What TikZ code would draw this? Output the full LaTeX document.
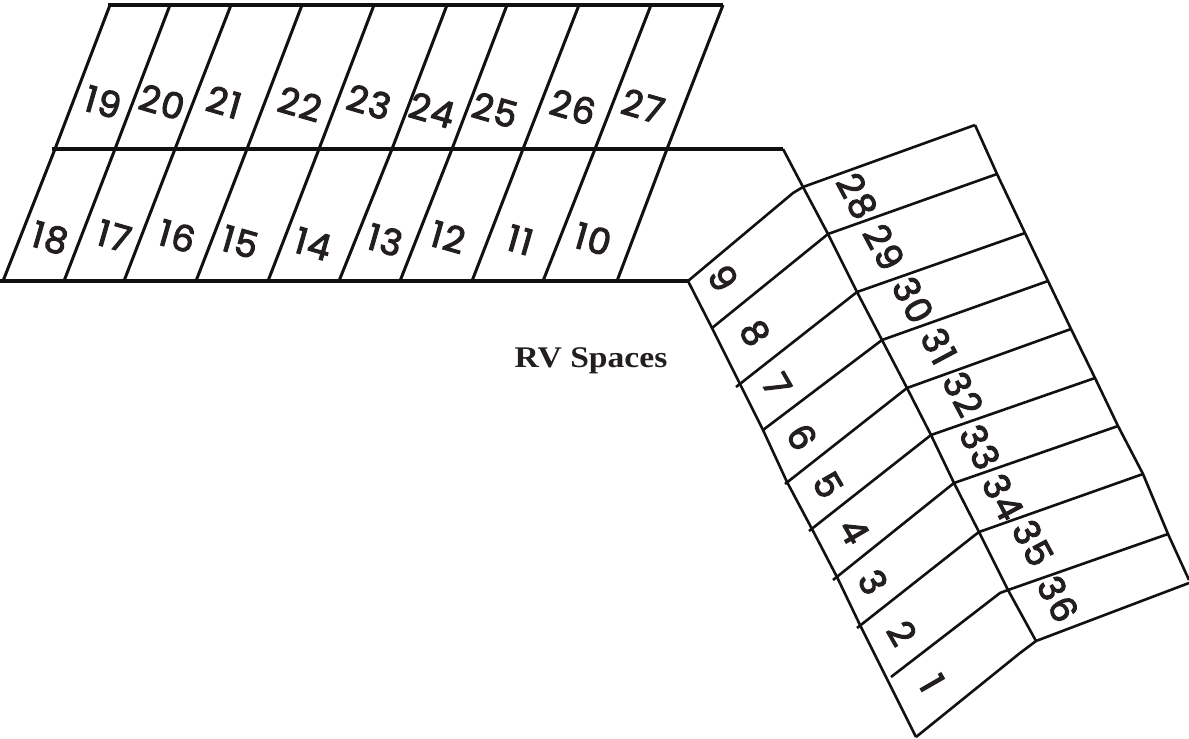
\documentclass[tikz,border=0pt]{standalone}
\usepackage{fontspec}
\setmainfont{Poppins}[FakeBold=3,LetterSpace=5]
\newfontfamily\rvfont{Liberation Serif}[FakeStretch=1.12]
\definecolor{ink}{HTML}{111111}
\definecolor{numink}{HTML}{231F20}
\tikzset{
  heavy/.style={draw=ink,line width=3.4pt},
  medium/.style={draw=ink,line width=3pt},
  fine/.style={draw=ink,line width=2.6pt,line join=round},
  num/.style={text=numink,inner sep=0pt,font=\fontsize{36}{36}\selectfont},
  rvlabel/.style={text=numink,inner sep=0pt,font=\rvfont\bfseries\fontsize{30}{30}\selectfont}
}
\begin{document}
\begin{tikzpicture}[x=1pt,y=-1pt]
\useasboundingbox (0,0) rectangle (1189,739);
\fill[white] (0,0) rectangle (1189,739);
% horizontal rows
\coordinate (tl) at (108,5); \coordinate (tr) at (723,5);
\coordinate (ml) at (52,149); \coordinate (mr) at (783,149);
\coordinate (bl) at (0,281); \coordinate (br) at (688,281);
\draw[heavy] (tl) -- (tr);
\draw[heavy] (ml) -- (mr);
\draw[heavy] (bl) -- (br);
% slanted dividers, upper and lower row
\foreach \a/\b/\c in {110/55/3,170/115/64,231/175/124,302/247/196,374/319/268,447/392/339,507/452/400,579/523/472,651/595/543,723/667/617}{
  \draw[medium] (\a,5) -- (\b,149) -- (\c,281);
}
% spine of the right-hand block
\draw[fine] (mr) -- (803,187) -- (828,234) -- (857,292) -- (882,340) -- (907,388) -- (931,435) -- (954,483) -- (979,532) -- (1008,590) -- (1036,641);
% outer edge, right
\draw[fine] (975,125) -- (997,174) -- (1025,233) -- (1048,281) -- (1071,329) -- (1095,378) -- (1118,426) -- (1143,474) -- (1168,534) -- (1189,580);
% outer edge, left
\draw[fine] (br) -- (712,328) -- (740,384) -- (763,430) -- (787,482) -- (812,529) -- (837,577) -- (860,625) -- (916,737);
% right-hand dividers
\foreach \a/\b/\c/\d in {803/187/975/125,828/234/997/174,857/292/1025/233,882/340/1048/281,907/388/1071/329,931/435/1095/378,954/483/1118/426,979/532/1143/474,1008/590/1168/534,1036/641/1189/583}{
  \draw[fine] (\a,\b) -- (\c,\d);
}
% left-hand dividers
\draw[fine] (br) -- (793,193) -- (803,187);
\draw[fine] (712,328) -- (828,234);
\draw[fine] (736,387) -- (857,292);
\draw[fine] (763,430) -- (882,340);
\draw[fine] (785,484) -- (907,388);
\draw[fine] (809,531) -- (931,435);
\draw[fine] (833,580) -- (954,483);
\draw[fine] (857,628) -- (975,535) -- (979,532);
\draw[fine] (891,677) -- (1000,593) -- (1008,590);
\draw[fine] (916,737) -- (1020,653) -- (1036,641);
% numbers
\foreach \n/\x/\y in {19/103/102,20/162/102,21/224/102,22/300/104,23/369/102,24/432/110,25/495/110,26/573/107,27/643/106,18/50/238,17/114/236,16/177/236,15/240/242,14/313/244,13/385/240,12/448/237,11/520/240,10/593/239}{
  \node[num,rotate=-16] (n\n) at (\x,\y) {\n};
}
\foreach \n/\x/\y in {9/723/278,8/755/333,7/777/385,6/802/437,5/828/485,4/854/531,3/873/582,2/902/633,1/932/683}{
  \node[num,rotate=-60] (n\n) at (\x,\y) {\n};
}
\foreach \n/\x/\y in {28/857/196,29/884/247,30/913/300,31/939/346,32/963/394,33/980/447,34/1003/497,35/1033/543,36/1058/599}{
  \node[num,rotate=-62] (n\n) at (\x,\y) {\n};
}
\node[rvlabel] (rv) at (591,361) {RV Spaces};
\end{tikzpicture}
\end{document}
